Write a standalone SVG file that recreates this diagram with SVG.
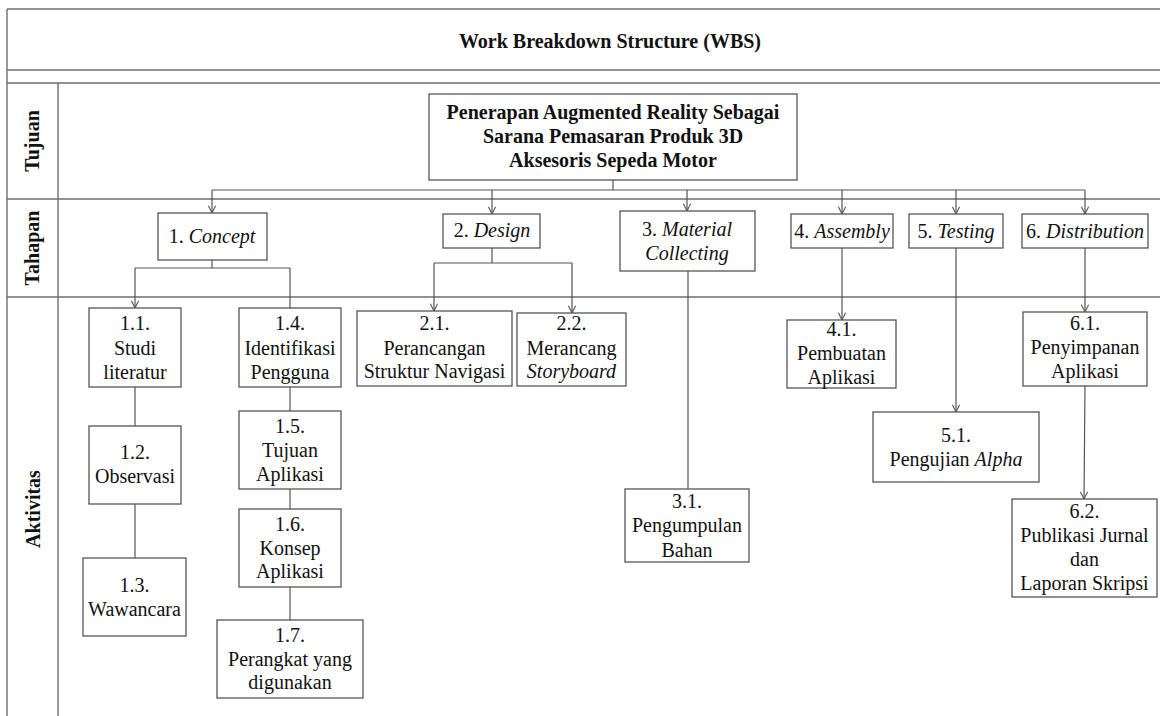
<svg xmlns="http://www.w3.org/2000/svg" width="1160" height="716" viewBox="0 0 1160 716">
<style>
.tl{stroke:#6e6e6e;stroke-width:1.4;fill:none}
.bx{fill:#fff;stroke:#555;stroke-width:1.3}
.cn{stroke:#555;stroke-width:1.2;fill:none}
text{font-family:'Liberation Serif','Times New Roman','DejaVu Serif',serif;font-size:20px;fill:#111;text-anchor:middle}
.b{font-weight:bold}
.i{font-style:italic}
</style>
<defs>
<marker id="ar" viewBox="0 0 10 10" refX="9" refY="5" markerWidth="9" markerHeight="9" markerUnits="userSpaceOnUse" orient="auto">
<path d="M1,1 L9,5 L1,9" fill="none" stroke="#555" stroke-width="1.2"/>
</marker>
</defs>
<rect width="1160" height="716" fill="#fff"/>
<g id="table">
<path class="tl" d="M7,9H1160M7,70H1160M7,83H1160M7,199H1160M7,297H1160M7,9V716M58,83V716"/>
<text class="b" x="610" y="48">Work Breakdown Structure (WBS)</text>
<text class="b" transform="translate(39,141) rotate(-90)">Tujuan</text>
<text class="b" transform="translate(39,248) rotate(-90)">Tahapan</text>
<text class="b" transform="translate(40,509) rotate(-90)">Aktivitas</text>
</g>
<g id="connectors">
<path class="cn" d="M613,180V190M212,190H1085"/>
<path class="cn" marker-end="url(#ar)" d="M212,190V213"/>
<path class="cn" marker-end="url(#ar)" d="M492,190V214"/>
<path class="cn" marker-end="url(#ar)" d="M687,190V211"/>
<path class="cn" marker-end="url(#ar)" d="M842,190V214"/>
<path class="cn" marker-end="url(#ar)" d="M956,190V214"/>
<path class="cn" marker-end="url(#ar)" d="M1085,190V214"/>
<path class="cn" d="M212,260V268M135,268H290M290,268V308"/>
<path class="cn" marker-end="url(#ar)" d="M135,268V308"/>
<path class="cn" d="M135,387V426M135,504V558M290,387V411M290,489V509M290,587V620"/>
<path class="cn" d="M492,248V263M434,263H572"/>
<path class="cn" marker-end="url(#ar)" d="M434,263V311"/>
<path class="cn" marker-end="url(#ar)" d="M572,263V313"/>
<path class="cn" d="M688,271V489"/>
<path class="cn" marker-end="url(#ar)" d="M842,248V320"/>
<path class="cn" marker-end="url(#ar)" d="M956,248V412"/>
<path class="cn" marker-end="url(#ar)" d="M1085,248V312"/>
<path class="cn" marker-end="url(#ar)" d="M1085,386L1084,499"/>
</g>
<g id="root">
<rect class="bx" x="429" y="94" width="368" height="86"/>
<text class="b" x="613" y="119">Penerapan Augmented Reality Sebagai</text>
<text class="b" x="613" y="143">Sarana Pemasaran Produk 3D</text>
<text class="b" x="613" y="167">Aksesoris Sepeda Motor</text>
</g>
<g id="n1">
<rect class="bx" x="158" y="213" width="109" height="47"/>
<text x="212" y="243">1. <tspan class="i">Concept</tspan></text>
</g>
<g id="n2">
<rect class="bx" x="443" y="214" width="97" height="34"/>
<text x="492" y="237">2. <tspan class="i">Design</tspan></text>
</g>
<g id="n3">
<rect class="bx" x="620" y="211" width="135" height="60"/>
<text x="687" y="236">3. <tspan class="i">Material</tspan></text>
<text class="i" x="687" y="260">Collecting</text>
</g>
<g id="n4">
<rect class="bx" x="791" y="214" width="102" height="34"/>
<text x="842" y="238">4. <tspan class="i">Assembly</tspan></text>
</g>
<g id="n5">
<rect class="bx" x="909" y="214" width="94" height="34"/>
<text x="956" y="238">5. <tspan class="i">Testing</tspan></text>
</g>
<g id="n6">
<rect class="bx" x="1022" y="214" width="126" height="34"/>
<text x="1085" y="238">6. <tspan class="i">Distribution</tspan></text>
</g>
<g id="n1_1">
<rect class="bx" x="89" y="308" width="92" height="79"/>
<text x="135" y="330">1.1.</text><text x="135" y="355">Studi</text><text x="135" y="379">literatur</text>
</g>
<g id="n1_2">
<rect class="bx" x="89" y="426" width="92" height="78"/>
<text x="135" y="459">1.2.</text><text x="135" y="483">Observasi</text>
</g>
<g id="n1_3">
<rect class="bx" x="83" y="558" width="103" height="78"/>
<text x="134.5" y="592">1.3.</text><text x="134.5" y="616">Wawancara</text>
</g>
<g id="n1_4">
<rect class="bx" x="239" y="308" width="102" height="79"/>
<text x="290" y="330">1.4.</text><text x="290" y="355">Identifikasi</text><text x="290" y="379">Pengguna</text>
</g>
<g id="n1_5">
<rect class="bx" x="239" y="411" width="102" height="78"/>
<text x="290" y="433">1.5.</text><text x="290" y="457">Tujuan</text><text x="290" y="481">Aplikasi</text>
</g>
<g id="n1_6">
<rect class="bx" x="239" y="509" width="102" height="78"/>
<text x="290" y="531">1.6.</text><text x="290" y="555">Konsep</text><text x="290" y="578">Aplikasi</text>
</g>
<g id="n1_7">
<rect class="bx" x="217" y="620" width="146" height="78"/>
<text x="290" y="642">1.7.</text><text x="290" y="666">Perangkat yang</text><text x="290" y="689">digunakan</text>
</g>
<g id="n2_1">
<rect class="bx" x="357" y="311" width="155" height="75"/>
<text x="434.5" y="330">2.1.</text><text x="434.5" y="355">Perancangan</text><text x="434.5" y="378">Struktur Navigasi</text>
</g>
<g id="n2_2">
<rect class="bx" x="517" y="313" width="109" height="73"/>
<text x="571.5" y="330">2.2.</text><text x="571.5" y="355">Merancang</text><text class="i" x="571.5" y="378">Storyboard</text>
</g>
<g id="n3_1">
<rect class="bx" x="625" y="489" width="124" height="73"/>
<text x="687" y="508">3.1.</text><text x="687" y="532">Pengumpulan</text><text x="687" y="557">Bahan</text>
</g>
<g id="n4_1">
<rect class="bx" x="787" y="320" width="109" height="68"/>
<text x="841.5" y="336">4.1.</text><text x="841.5" y="360">Pembuatan</text><text x="841.5" y="384">Aplikasi</text>
</g>
<g id="n5_1">
<rect class="bx" x="873" y="412" width="166" height="70"/>
<text x="956" y="442">5.1.</text><text x="956" y="466">Pengujian <tspan class="i">Alpha</tspan></text>
</g>
<g id="n6_1">
<rect class="bx" x="1023" y="312" width="124" height="74"/>
<text x="1085" y="330">6.1.</text><text x="1085" y="354">Penyimpanan</text><text x="1085" y="378">Aplikasi</text>
</g>
<g id="n6_2">
<rect class="bx" x="1012" y="499" width="145" height="98"/>
<text x="1084.5" y="518">6.2.</text><text x="1084.5" y="542">Publikasi Jurnal</text><text x="1084.5" y="566">dan</text><text x="1084.5" y="590">Laporan Skripsi</text>
</g>
</svg>
